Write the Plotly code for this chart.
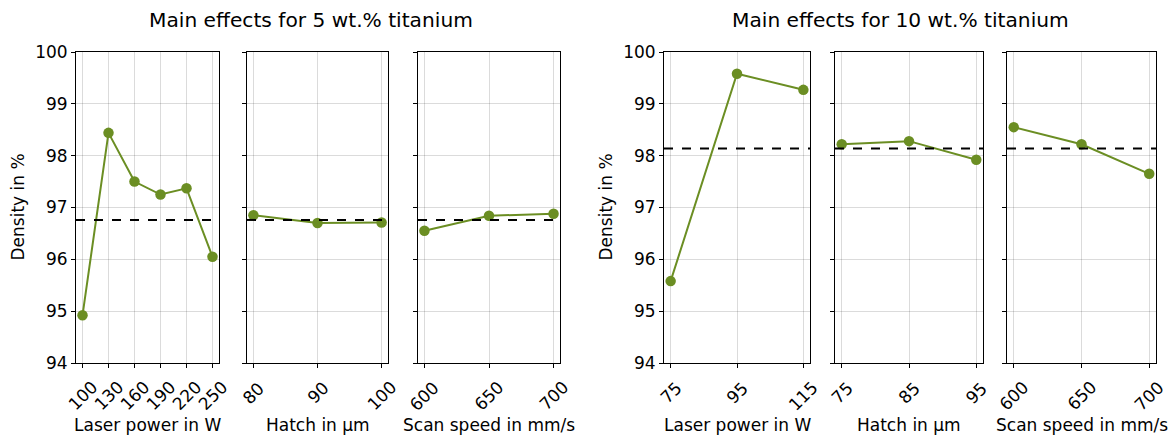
import plotly.graph_objects as go

# ---------------- data ----------------
groups = ["5 wt.% titanium", "10 wt.% titanium"]

factor_names = ["Laser power in W", "Hatch in µm", "Scan speed in mm/s"]

# 5 wt.% titanium
lp5_x = [100, 130, 160, 190, 220, 250]
lp5_y = [94.92, 98.44, 97.50, 97.25, 97.37, 96.05]
ha5_x = [80, 90, 100]
ha5_y = [96.85, 96.70, 96.71]
ss5_x = [600, 650, 700]
ss5_y = [96.55, 96.84, 96.88]
mean5 = 96.76

# 10 wt.% titanium
lp10_x = [75, 95, 115]
lp10_y = [95.58, 99.58, 99.27]
ha10_x = [75, 85, 95]
ha10_y = [98.22, 98.28, 97.92]
ss10_x = [600, 650, 700]
ss10_y = [98.55, 98.22, 97.65]
mean10 = 98.14

y_ticks = [94, 95, 96, 97, 98, 99, 100]

# ---------------- layout ----------------
W, H = 1175, 438
GREEN = "#6b8e23"
FONT = "DejaVu Sans"
FS = 17
FS_TITLE = 20.2

panels_px = [(76, 219), (247, 388), (418, 560), (664, 810), (835, 983), (1007, 1156)]
top_px, bot_px = 52, 363

series = [
    (lp5_x, lp5_y, mean5, factor_names[0]),
    (ha5_x, ha5_y, mean5, factor_names[1]),
    (ss5_x, ss5_y, mean5, factor_names[2]),
    (lp10_x, lp10_y, mean10, factor_names[0]),
    (ha10_x, ha10_y, mean10, factor_names[1]),
    (ss10_x, ss10_y, mean10, factor_names[2]),
]

fig = go.Figure()
layout = dict(
    width=W, height=H,
    margin=dict(l=0, r=0, t=0, b=0, autoexpand=False),
    paper_bgcolor="white", plot_bgcolor="white",
    showlegend=False,
    font=dict(family=FONT, size=FS, color="black"),
)
annotations = []
shapes = []

ydom = [1 - bot_px / H, 1 - top_px / H]

for i, ((xs, ys, m, xname), (x0, x1)) in enumerate(zip(series, panels_px)):
    n = i + 1
    xa = "x" if n == 1 else f"x{n}"
    ya = "y" if n == 1 else f"y{n}"
    fig.add_trace(go.Scatter(
        x=xs, y=ys, mode="lines+markers", xaxis=xa, yaxis=ya,
        line=dict(color=GREEN, width=2),
        marker=dict(color=GREEN, size=10.5),
        hoverinfo="x+y",
    ))
    span = max(xs) - min(xs)
    pad = 0.05 * span
    layout[f"xaxis{'' if n == 1 else n}"] = dict(
        domain=[x0 / W, x1 / W], anchor=ya,
        range=[min(xs) - pad, max(xs) + pad],
        tickmode="array", tickvals=xs, showticklabels=False,
        automargin=False,
        showgrid=True, gridcolor="rgba(0,0,0,0.14)", gridwidth=1,
        showline=True, linecolor="black", linewidth=1, mirror=True,
        ticks="outside", ticklen=4, tickcolor="black",
        zeroline=False,
    )
    layout[f"yaxis{'' if n == 1 else n}"] = dict(
        domain=ydom, anchor=xa,
        range=[94, 100], automargin=False,
        tickmode="array", tickvals=y_ticks,
        showticklabels=(n in (1, 4)),
        showgrid=True, gridcolor="rgba(0,0,0,0.14)", gridwidth=1,
        showline=True, linecolor="black", linewidth=1, mirror=True,
        ticks="outside", ticklen=4, tickcolor="black",
        zeroline=False,
        tickfont=dict(family=FONT, size=FS, color="black"),
    )
    # rotated, centre-aligned x tick labels (matplotlib style)
    for v in xs:
        lbl = str(v)
        annotations.append(dict(
            text=lbl, x=v, y=0, xref=xa, yref=f"{ya} domain",
            showarrow=False, textangle=-45,
            xanchor="center", yanchor="middle",
            yshift=-(29.5 + 3.7 * (len(lbl) - 2)),
            font=dict(family=FONT, size=FS, color="black"),
        ))
    shapes.append(dict(
        type="line", xref=f"{xa} domain", yref=ya,
        x0=0, x1=1, y0=m, y1=m,
        line=dict(color="black", width=2, dash="dash"),
        layer="above",
    ))
    annotations.append(dict(
        text=xname, x=(x0 + x1) / 2 / W, y=1 - 425 / H,
        xref="paper", yref="paper", showarrow=False,
        xanchor="center", yanchor="middle",
        font=dict(family=FONT, size=FS, color="black"),
    ))

for gi, (g, cx, ylab_x) in enumerate(zip(groups, [311, 900], [18, 606])):
    annotations.append(dict(
        text=f"Main effects for {g}", x=cx / W, y=1 - 20 / H,
        xref="paper", yref="paper", showarrow=False,
        xanchor="center", yanchor="middle",
        font=dict(family=FONT, size=FS_TITLE, color="black"),
    ))
    annotations.append(dict(
        text="Density in %", x=ylab_x / W, y=1 - (top_px + bot_px) / 2 / H,
        xref="paper", yref="paper", showarrow=False, textangle=-90,
        xanchor="center", yanchor="middle",
        font=dict(family=FONT, size=FS, color="black"),
    ))

layout["annotations"] = annotations
layout["shapes"] = shapes
fig.update_layout(**layout)
fig.write_html(
    "out.html",
    config={"displayModeBar": False},
    post_script="document.body.style.margin='0';document.body.style.overflow='hidden';",
)
